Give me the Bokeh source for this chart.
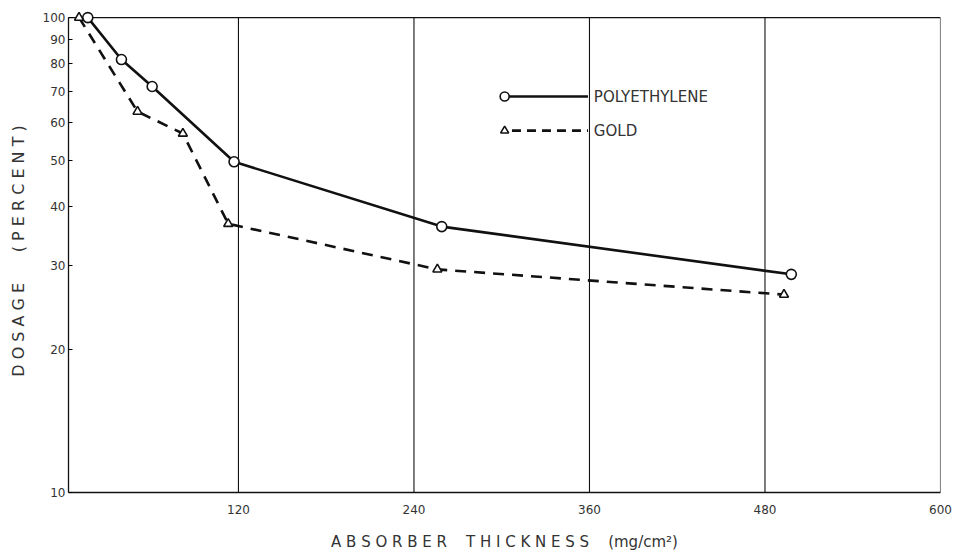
from bokeh.plotting import figure
from bokeh.models import Range1d, FixedTicker, CustomJSTickFormatter
from bokeh.core.properties import value
from bokeh.embed import file_html
from bokeh.resources import INLINE

# ---- data ----
poly_x = [17, 40, 61, 117, 259, 498]
poly_y = [100, 81.6, 71.6, 49.7, 36.3, 28.8]
gold_x = [11, 51, 82, 113, 256, 493]
gold_y = [100, 63.4, 57.0, 36.8, 29.5, 26.1]
x_ticks = [120, 240, 360, 480, 600]
y_ticks = [10, 20, 30, 40, 50, 60, 70, 80, 90, 100]
series_names = ["POLYETHYLENE", "GOLD"]

# legend sample positions (data units)
leg_x0, leg_x1, leg_tx = 302, 359, 363
leg_y = [68.2, 57.8]

X0, X1 = 3.8, 600
Y0, Y1 = 10, 100

ink = "#111111"
txt = "#333333"
NB = "\u00a0"

p = figure(width=960, height=560, y_axis_type="log",
           x_range=Range1d(X0, X1), y_range=Range1d(Y0, 104),
           output_backend="svg", toolbar_location=None,
           min_border_left=68, min_border_right=20,
           min_border_top=9, min_border_bottom=68)
p.outline_line_alpha = 0
p.background_fill_color = "white"
p.border_fill_color = "white"
p.xgrid.visible = False
p.ygrid.visible = False

# frame pieces: top line and vertical lines
p.segment(x0=[X0], y0=[Y1], x1=[X1], y1=[Y1], line_color=ink, line_width=1.3)
p.segment(x0=x_ticks, y0=[Y0] * len(x_ticks), x1=x_ticks, y1=[Y1] * len(x_ticks),
          line_color=ink, line_width=1.1)

# series
p.line(poly_x, poly_y, line_color=ink, line_width=2.6)
p.scatter(poly_x, poly_y, marker="circle", size=10, fill_color="white",
          line_color=ink, line_width=1.6)
p.line(gold_x, gold_y, line_color=ink, line_width=2.6, line_dash="11 8")
p.scatter(gold_x, gold_y, marker="triangle", size=9, fill_color="white",
          line_color=ink, line_width=1.6)

# legend (drawn like the original)
p.segment(x0=[leg_x0], y0=[leg_y[0]], x1=[leg_x1], y1=[leg_y[0]], line_color=ink, line_width=2.6)
p.scatter([leg_x0], [leg_y[0]], marker="circle", size=9, fill_color="white",
          line_color=ink, line_width=1.6)
p.segment(x0=[leg_x0 + 5], y0=[leg_y[1]], x1=[leg_x1], y1=[leg_y[1]], line_color=ink,
          line_width=2.6, line_dash="9 6")
p.scatter([leg_x0], [leg_y[1]], marker="triangle", size=8, fill_color="white",
          line_color=ink, line_width=1.6)
p.text([leg_tx, leg_tx], leg_y, text=series_names, text_font=value("DejaVu Sans"),
       text_font_size="15px", text_color=txt, text_baseline="middle", text_align="left")

# axes
xa = p.xaxis[0]
xa.ticker = FixedTicker(ticks=x_ticks)
xa.bounds = (X0, X1)
xa.major_tick_in = 0
xa.major_tick_out = 0
xa.minor_tick_line_color = None
xa.axis_line_color = ink
xa.axis_line_width = 1.3
xa.major_label_text_font = "DejaVu Sans"
xa.major_label_text_font_size = "12px"
xa.major_label_text_color = txt
xa.major_label_standoff = 12
xa.axis_label = ("A B S O R B E R" + NB * 4 + "T H I C K N E S S" + NB * 4 + "(mg/cm²)")
xa.axis_label_text_font = "DejaVu Sans"
xa.axis_label_text_font_style = "normal"
xa.axis_label_text_font_size = "15px"
xa.axis_label_text_color = txt
xa.axis_label_standoff = 16

ya = p.yaxis[0]
ya.ticker = FixedTicker(ticks=y_ticks, minor_ticks=[])
ya.bounds = (Y0, Y1)
ya.formatter = CustomJSTickFormatter(code="return Math.round(tick).toString();")
ya.major_tick_in = 4
ya.major_tick_out = 0
ya.minor_tick_line_color = None
ya.axis_line_color = ink
ya.axis_line_width = 1.3
ya.major_label_text_font = "DejaVu Sans"
ya.major_label_text_font_size = "12px"
ya.major_label_text_color = txt
ya.major_label_standoff = 3
ya.axis_label = ("D O S A G E" + NB * 6 + "( P E R C E N T )")
ya.axis_label_text_font = "DejaVu Sans"
ya.axis_label_text_font_style = "normal"
ya.axis_label_text_font_size = "16px"
ya.axis_label_text_color = txt
ya.axis_label_standoff = 12

open("out.html", "w").write(file_html(p, INLINE))
